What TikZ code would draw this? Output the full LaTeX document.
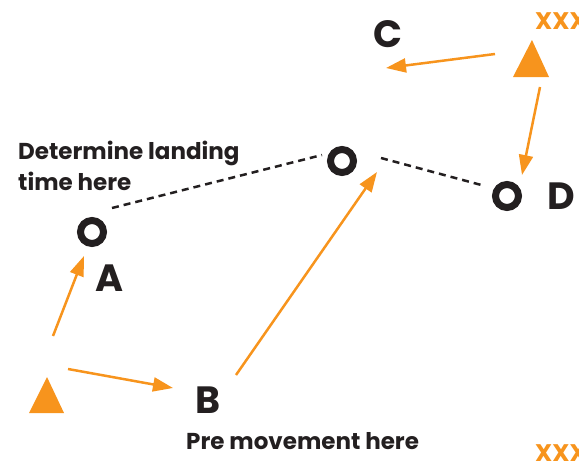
\documentclass[tikz,border=0pt]{standalone}
\usepackage{fontspec}
\setmainfont{Poppins}
\usetikzlibrary{arrows.meta}

\definecolor{cone}{HTML}{F7941D}
\definecolor{ink}{HTML}{231F20}

\tikzset{
    ring/.style={circle, draw=ink, line width=7pt, minimum size=23pt, inner sep=0pt},
    letter/.style={font=\fontsize{38}{38}\selectfont\bfseries, text=ink, inner sep=0pt, anchor=base west},
    note/.style={font=\fontsize{23}{31}\selectfont\bfseries, text=ink, inner sep=0pt, anchor=base west, align=left},
    marks/.style={font=\fontsize{24}{24}\selectfont\bfseries, text=cone, inner sep=0pt, anchor=base west},
    run/.style={draw=cone, line width=2.5pt, -{Triangle[length=20pt, width=14pt]}},
    flight/.style={draw=ink, line width=2.5pt, dash pattern=on 7pt off 5pt},
    cone/.style={fill=cone}
}

\begin{document}
\begin{tikzpicture}[x=1pt, y=-1pt]
    \useasboundingbox (0, 0) rectangle (579, 463);

    % cones
    \fill [cone] (29, 413) -- (47, 377) -- (64, 413) -- cycle;
    \fill [cone] (513, 77) -- (532, 40) -- (549, 77) -- cycle;

    % rings
    \node (ringA) at (92, 232) [ring] {};
    \node (ringTop) at (342, 161) [ring] {};
    \node (ringD) at (507, 196) [ring] {};

    % labels
    \node (labC) at (373, 47) [letter] {C};
    \node (labA) at (95, 291) [letter] {A};
    \node (labB) at (195, 413) [letter] {B};
    \node (labD) at (547, 209) [letter] {D};

    \node (landing) at (18, 190) [note] {Determine landing \\ time here};
    \node (premove) at (186, 449) [note] {Pre movement here};

    \node (marksTop) at (535, 30) [marks] {XXX};
    \node (marksBot) at (535, 461) [marks] {XXX};

    % run ends
    \coordinate (a1s) at (53, 336);  \coordinate (a1e) at (84, 256);
    \coordinate (a2s) at (68, 369);  \coordinate (a2e) at (173, 388);
    \coordinate (a3s) at (236, 375); \coordinate (a3e) at (377, 172);
    \coordinate (a4s) at (495, 54);  \coordinate (a4e) at (386, 68);
    \coordinate (a5s) at (540, 87);  \coordinate (a5e) at (522, 175);

    \draw [run] (a1s) -- (a1e);
    \draw [run] (a2s) -- (a2e);
    \draw [run] (a3s) -- (a3e);
    \draw [run] (a4s) -- (a4e);
    \draw [run] (a5s) -- (a5e);

    % flight path
    \coordinate (f1s) at (112, 208); \coordinate (f1e) at (322, 155);
    \coordinate (f2s) at (381, 158); \coordinate (f2e) at (485, 186);

    \draw [flight] (f1s) -- (f1e);
    \draw [flight] (f2s) -- (f2e);
\end{tikzpicture}
\end{document}
